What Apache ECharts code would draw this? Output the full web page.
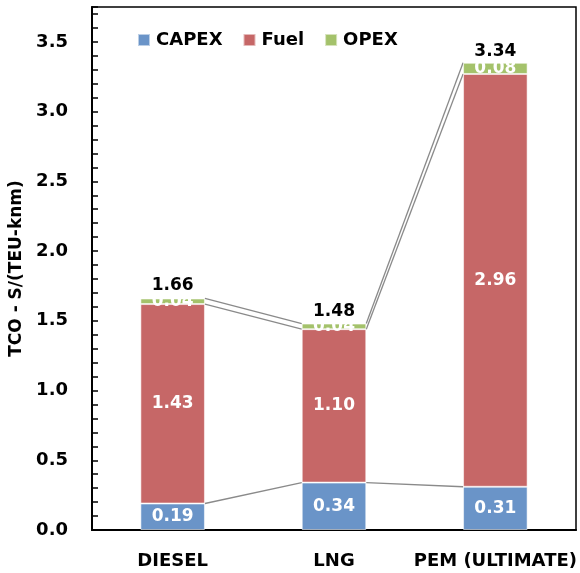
<!DOCTYPE html>
<html>
<head>
<meta charset="utf-8">
<title>TCO by fuel pathway</title>
<script src="https://cdn.jsdelivr.net/npm/echarts@6/dist/echarts.min.js"></script>
<style>
  html, body { margin: 0; padding: 0; background: #fff; }
  #chart { width: 580px; height: 573px; }
</style>
</head>
<body>
<div id="chart"></div>
<script>
// Cost components per powertrain, $/(TEU-knm)
const categories = ['DIESEL', 'LNG', 'PEM (ULTIMATE)'];
const capex = [0.19, 0.34, 0.31];
const fuel = [1.43, 1.10, 2.96];
const opex = [0.04, 0.04, 0.08];
const totals = [1.66, 1.48, 3.34];
const seriesNames = ['CAPEX', 'Fuel', 'OPEX'];

const FONT = 'DejaVu Sans';
const colors = { CAPEX: '#6A94C8', Fuel: '#C66767', OPEX: '#A4C26B' };

// Cumulative tops of each stacked layer, used for the connector lines
const capTop = capex.slice();
const fuelTop = capex.map((v, i) => v + fuel[i]);
const opexTop = fuelTop.map((v, i) => v + opex[i]);

function connectorData(levels) {
  const out = [];
  for (let i = 0; i < levels.length - 1; i++) out.push([i, levels[i], levels[i + 1]]);
  return out;
}

// Draws a line from the right edge of one bar top to the left edge of the next
function renderConnector(params, api) {
  const i = api.value(0);
  const a = api.coord([i, api.value(1)]);
  const b = api.coord([i + 1, api.value(2)]);
  const half = api.size([1, 0])[0] * 0.2;
  return {
    type: 'line',
    shape: { x1: a[0] + half, y1: a[1], x2: b[0] - half, y2: b[1] },
    style: { stroke: '#8a8a8a', lineWidth: 1.3 }
  };
}

function connector(levels) {
  return {
    type: 'custom',
    renderItem: renderConnector,
    encode: { x: 0, y: [1, 2] },
    data: connectorData(levels),
    silent: true,
    z: 1
  };
}

function barSeries(name, values) {
  return {
    name: name,
    type: 'bar',
    stack: 'tco',
    barWidth: '40%',
    data: values,
    itemStyle: { color: colors[name], borderColor: 'rgba(255,255,255,0.55)', borderWidth: 1 },
    label: {
      show: true,
      position: 'inside',
      color: '#fff',
      fontFamily: FONT,
      fontWeight: 'bold',
      fontSize: 17,
      formatter: p => p.value.toFixed(2)
    },
    z: 2
  };
}

const chart = echarts.init(document.getElementById('chart'), null, { renderer: 'canvas' });

chart.setOption({
  animation: false,
  backgroundColor: '#fff',
  textStyle: { fontFamily: FONT },
  grid: {
    left: 92, right: 4, top: 7, bottom: 43,
    show: true, borderColor: '#000', borderWidth: 1.5
  },
  legend: {
    data: seriesNames,
    left: 132,
    top: 26,
    itemWidth: 12,
    itemHeight: 12,
    itemGap: 20,
    icon: 'rect',
    textStyle: { fontFamily: FONT, fontWeight: 'bold', fontSize: 18, color: '#000', padding: [0, 0, 0, 1] }
  },
  xAxis: {
    type: 'category',
    data: categories,
    axisLine: { lineStyle: { color: '#000', width: 2 } },
    axisTick: { show: false },
    axisLabel: { interval: 0, color: '#000', fontFamily: FONT, fontWeight: 'bold', fontSize: 18, margin: 22 }
  },
  yAxis: {
    type: 'value',
    min: 0,
    max: 3.75,
    interval: 0.1,
    name: 'TCO - S/(TEU-knm)',
    nameLocation: 'middle',
    nameGap: 64,
    nameTextStyle: { color: '#000', fontFamily: FONT, fontWeight: 'bold', fontSize: 17 },
    axisLine: { show: true, lineStyle: { color: '#000', width: 2 } },
    axisTick: { show: true, inside: true, length: 6, lineStyle: { color: '#000', width: 1.5 } },
    splitLine: { show: false },
    axisLabel: {
      color: '#000', fontFamily: FONT, fontWeight: 'bold', fontSize: 18, margin: 24,
      formatter: v => (Math.abs(v * 2 - Math.round(v * 2)) < 1e-6 ? v.toFixed(1) : '')
    }
  },
  series: [
    connector(capTop),
    connector(fuelTop),
    connector(opexTop),
    barSeries('CAPEX', capex),
    barSeries('Fuel', fuel),
    barSeries('OPEX', opex),
    {
      name: 'Total',
      type: 'scatter',
      data: totals,
      symbolSize: 0,
      silent: true,
      itemStyle: { opacity: 1 },
      label: {
        show: true,
        position: 'top',
        distance: 4,
        color: '#000',
        fontFamily: FONT,
        fontWeight: 'bold',
        fontSize: 17,
        formatter: p => p.value.toFixed(2)
      },
      z: 3
    }
  ]
});
</script>
</body>
</html>
